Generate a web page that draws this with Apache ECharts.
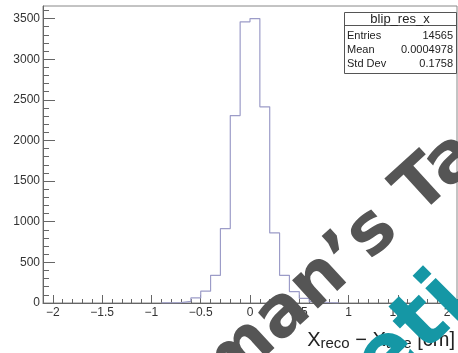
<!DOCTYPE html>
<html>
<head>
<meta charset="utf-8">
<script src="https://cdn.jsdelivr.net/npm/echarts@6/dist/echarts.min.js"></script>
<style>
html,body{margin:0;padding:0;background:#fff;}
#chart{width:458px;height:353px;}
</style>
</head>
<body>
<div id="chart"></div>
<script>
// Histogram data: bin low edges (width 0.1) and counts
var binLow = [-0.9, -0.8, -0.7, -0.6, -0.5, -0.4, -0.3, -0.2, -0.1, 0.0, 0.1, 0.2, 0.3, 0.4, 0.5, 0.6, 0.7, 0.8];
var counts = [2, 5, 20, 62, 145, 340, 916, 2307, 3460, 3500, 2414, 862, 341, 140, 58, 18, 6, 2];
var lastEdge = 0.9;

var xMajorTicks = [-2, -1.5, -1, -0.5, 0, 0.5, 1, 1.5, 2];
var xMinorTicks = [-2.1,-1.9,-1.8,-1.7,-1.6,-1.4,-1.3,-1.2,-1.1,-0.9,-0.8,-0.7,-0.6,-0.4,-0.3,-0.2,-0.1,0.1,0.2,0.3,0.4,0.6,0.7,0.8,0.9,1.1,1.2,1.3,1.4,1.6,1.7,1.8,1.9,2.1];
var yMajorTicks = [0, 500, 1000, 1500, 2000, 2500, 3000, 3500];
var yMinorTicks = [100,200,300,400,600,700,800,900,1100,1200,1300,1400,1600,1700,1800,1900,2100,2200,2300,2400,2600,2700,2800,2900,3100,3200,3300,3400,3600];

var statsTitle = 'blip_res_x';
var statsRows = [['Entries', '14565'], ['Mean', '0.0004978'], ['Std Dev', '0.1758']];

// watermark text overlaid on the reference picture
var wmGrayText = 'man\u2019s Ta';
var wmTealText = 'eeti';

var points = binLow.map(function (x, i) { return [x, counts[i]]; });
points.push([lastEdge, 0]);

var chart = echarts.init(document.getElementById('chart'), null, {renderer: 'canvas'});
var FONT = 'Liberation Sans, Arial, sans-serif';
var axisColor = '#666';
function fmtMinus(v) { return String(v).replace('-', '\u2212'); }
function fmtPlain(v) { return String(v); }

var graphics = [];
// stats box
graphics.push({type: 'rect', shape: {x: 344.5, y: 12.5, width: 112, height: 61}, style: {fill: '#fff', stroke: '#555', lineWidth: 1}, z: 10});
graphics.push({type: 'line', shape: {x1: 344.5, y1: 25.5, x2: 456.5, y2: 25.5}, style: {stroke: '#555', lineWidth: 1}, z: 11});
graphics.push({type: 'text', x: 400, y: 19.5, style: {text: statsTitle, font: '13px ' + FONT, fill: '#222', textAlign: 'center', textVerticalAlign: 'middle'}, z: 11});
statsRows.forEach(function (r, i) {
  var y = 35.5 + i * 14.3;
  graphics.push({type: 'text', x: 347, y: y, style: {text: r[0], font: '11px ' + FONT, fill: '#222', textAlign: 'left', textVerticalAlign: 'middle'}, z: 11});
  graphics.push({type: 'text', x: 453, y: y, style: {text: r[1], font: '11px ' + FONT, fill: '#222', textAlign: 'right', textVerticalAlign: 'middle'}, z: 11});
});
// x axis title
graphics.push({
  type: 'text', x: 455, y: 330, z: 5,
  style: {
    text: '{a|X}{b|reco}{a| \u2212 X}{b|true}{a| [cm]}',
    textAlign: 'right', textVerticalAlign: 'top',
    rich: {
      a: {fontSize: 20, fontFamily: FONT, fill: '#222', lineHeight: 21, verticalAlign: 'top'},
      b: {fontSize: 15, fontFamily: FONT, fill: '#222', lineHeight: 15, padding: [10, 0, 0, 0], verticalAlign: 'bottom'}
    }
  }
});
// watermark
graphics.push({type: 'text', x: 236, y: 406, rotation: 0.74, z: 20,
  style: {text: wmGrayText, font: 'bold 70px DejaVu Sans, sans-serif', fill: '#555', textAlign: 'left', textVerticalAlign: 'bottom'}});
graphics.push({type: 'text', x: 358, y: 449, rotation: Math.PI / 4, z: 21,
  style: {text: wmTealText, font: 'bold 84px DejaVu Sans, sans-serif', fill: '#1597a5', textAlign: 'left', textVerticalAlign: 'bottom'}});

var option = {
  animation: false,
  backgroundColor: '#fff',
  grid: {left: 43, right: 1, top: 6, bottom: 50, show: true, borderColor: '#888', borderWidth: 1, backgroundColor: 'transparent'},
  xAxis: [{
    type: 'value', min: -2.1, max: 2.1, position: 'bottom',
    axisLine: {show: true, onZero: false, lineStyle: {color: axisColor}},
    axisTick: {show: true, inside: true, length: 8, customValues: xMajorTicks, lineStyle: {color: axisColor}},
    axisLabel: {show: true, customValues: xMajorTicks, margin: 4, fontSize: 12, fontFamily: FONT, color: '#333', formatter: fmtMinus},
    splitLine: {show: false}
  }, {
    type: 'value', min: -2.1, max: 2.1, position: 'bottom',
    axisLine: {show: false, onZero: false},
    axisTick: {show: true, inside: true, length: 4, customValues: xMinorTicks, lineStyle: {color: axisColor}},
    axisLabel: {show: false},
    splitLine: {show: false}
  }],
  yAxis: [{
    type: 'value', min: 0, max: 3655, position: 'left',
    axisLine: {show: true, onZero: false, lineStyle: {color: axisColor}},
    axisTick: {show: true, inside: true, length: 12, customValues: yMajorTicks, lineStyle: {color: axisColor}},
    axisLabel: {show: true, customValues: yMajorTicks, margin: 3, fontSize: 12, fontFamily: FONT, color: '#333', formatter: fmtPlain},
    splitLine: {show: false}
  }, {
    type: 'value', min: 0, max: 3655, position: 'left',
    axisLine: {show: false, onZero: false},
    axisTick: {show: true, inside: true, length: 6, customValues: yMinorTicks, lineStyle: {color: axisColor}},
    axisLabel: {show: false},
    splitLine: {show: false}
  }],
  series: [{
    type: 'line', xAxisIndex: 0, yAxisIndex: 0,
    data: points, step: 'end', symbol: 'none',
    lineStyle: {color: '#9c9cc8', width: 1.2},
    z: 3
  }],
  graphic: graphics
};
chart.setOption(option);
</script>
</body>
</html>
